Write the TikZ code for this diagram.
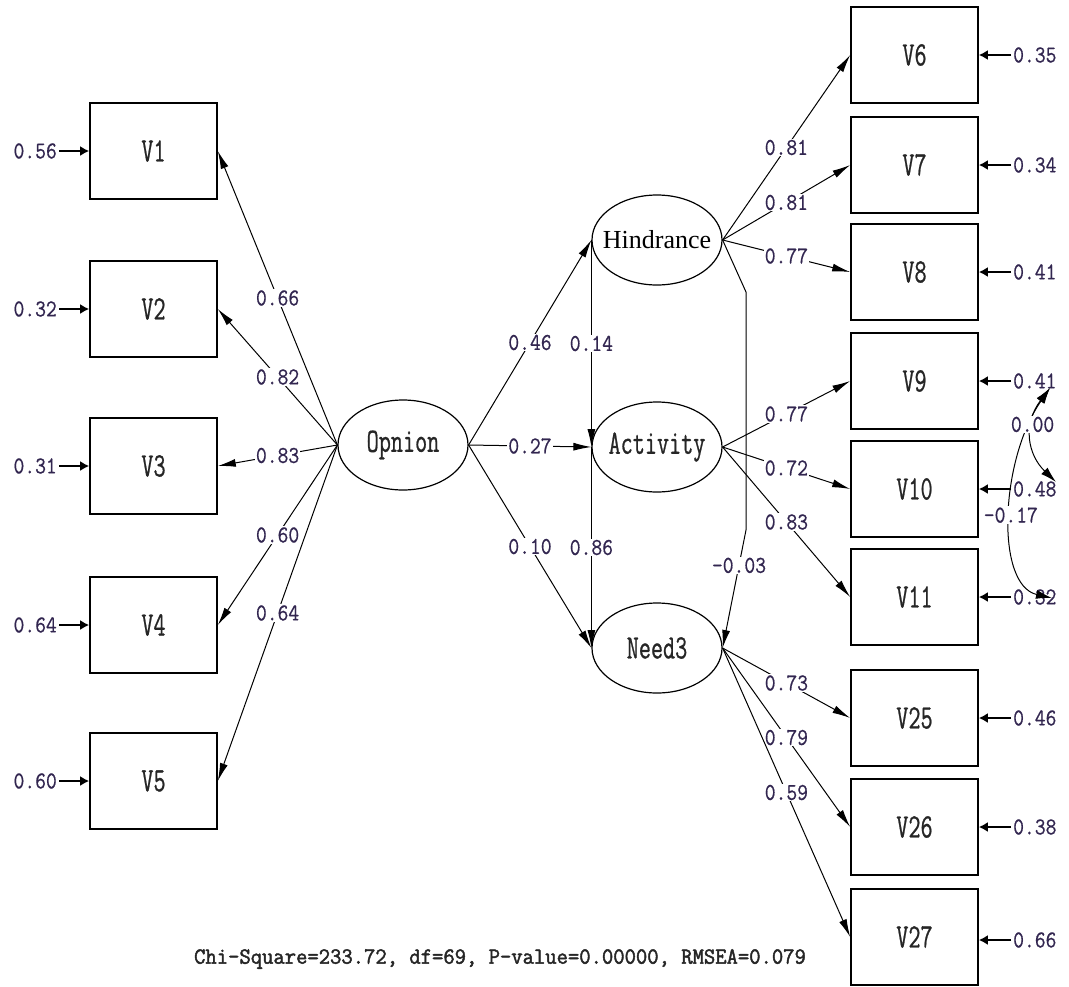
\documentclass[tikz,border=0pt]{standalone}
\usepackage{fontspec}
\usepackage{graphicx}
\setmainfont{Liberation Serif}
\newfontfamily\numf{Latin Modern Mono}[FakeBold=0.7]
\newfontfamily\boxf{Latin Modern Mono}[FakeBold=0.9]
\newfontfamily\fitf{Latin Modern Mono}[FakeBold=2]
\usetikzlibrary{shapes.geometric,arrows.meta}
\definecolor{numcol}{RGB}{50,38,80}
\newcommand\tl[2][1.15]{\scalebox{1}[#1]{#2}}
\begin{document}
\begin{tikzpicture}[x=1pt,y=-1pt,
 box/.style={draw, line width=1.6pt, minimum width=127pt, minimum height=96pt, inner sep=0pt, font=\boxf\fontsize{23.5}{23.5}\selectfont, text=black!85},
 lat/.style={draw, ellipse, line width=1.2pt, minimum width=130pt, minimum height=90pt, inner sep=0pt},
 lattext/.style={font=\boxf\fontsize{23.5}{23.5}\selectfont, text=black!85},
 num/.style={font=\numf\fontsize{21}{21}\selectfont, text=numcol, fill=white, inner sep=1pt},
 elab/.style={font=\numf\fontsize{21}{21}\selectfont, text=numcol, inner sep=0pt},
 pth/.style={line width=1pt, -{Latex[length=18pt,width=8pt]}},
 earr/.style={line width=2.6pt, -{Latex[length=9pt,width=10pt]}},
 cov/.style={line width=1pt, {Latex[length=16pt,width=9pt]}-{Latex[length=16pt,width=9pt]}},
]
\useasboundingbox (0,0) rectangle (1069,986);

% left observed
\node[box] (V1) at (153.5,151) {\tl[1.45]{V1}};
\node[box] (V2) at (153.5,309) {\tl[1.45]{V2}};
\node[box] (V3) at (153.5,466) {\tl[1.45]{V3}};
\node[box] (V4) at (153.5,625) {\tl[1.45]{V4}};
\node[box] (V5) at (153.5,781) {\tl[1.45]{V5}};

% right observed
\node[box] (V6)  at (914.5,55)  {\tl[1.45]{V6}};
\node[box] (V7)  at (914.5,165) {\tl[1.45]{V7}};
\node[box] (V8)  at (914.5,272) {\tl[1.45]{V8}};
\node[box] (V9)  at (914.5,381) {\tl[1.45]{V9}};
\node[box] (V10) at (914.5,489) {\tl[1.45]{V10}};
\node[box] (V11) at (914.5,597) {\tl[1.45]{V11}};
\node[box] (V25) at (914.5,718) {\tl[1.45]{V25}};
\node[box] (V26) at (914.5,827) {\tl[1.45]{V26}};
\node[box] (V27) at (914.5,937) {\tl[1.45]{V27}};

% latent
\node[lat, label={[lattext]center:\tl[1.45]{Opnion}}] (Op) at (403,445) {};
\node[lat, label={[font=\fontsize{26}{26}\selectfont, text=black]center:Hindrance}] (Hi) at (657,240) {};
\node[lat, label={[lattext]center:\tl[1.45]{Activity}}] (Ac) at (657,447) {};
\node[lat, label={[lattext]center:\tl[1.45]{Need3}}] (Ne) at (657,648) {};

% left errors
\node[elab, anchor=east] (e1) at (57,151) {\tl{0.56}};
\node[elab, anchor=east] (e2) at (57,309) {\tl{0.32}};
\node[elab, anchor=east] (e3) at (57,466) {\tl{0.31}};
\node[elab, anchor=east] (e4) at (57,625) {\tl{0.64}};
\node[elab, anchor=east] (e5) at (57,781) {\tl{0.60}};
\foreach \i in {1,...,5} \draw[earr] ([xshift=2pt]e\i.east) -- (V\i.west);

% right errors
\node[elab, anchor=west] (e6)  at (1013,55)  {\tl{0.35}};
\node[elab, anchor=west] (e7)  at (1013,165) {\tl{0.34}};
\node[elab, anchor=west] (e8)  at (1013,272) {\tl{0.41}};
\node[elab, anchor=west] (e9)  at (1013,381) {\tl{0.41}};
\node[elab, anchor=west] (e10) at (1013,489) {\tl{0.48}};
\node[elab, anchor=west] (e11) at (1013,597) {\tl{0.32}};
\node[elab, anchor=west] (e25) at (1013,718) {\tl{0.46}};
\node[elab, anchor=west] (e26) at (1013,827) {\tl{0.38}};
\node[elab, anchor=west] (e27) at (1013,940) {\tl{0.66}};
\foreach \i in {6,7,8,9,10,11,25,26} \draw[earr] ([xshift=-2pt]e\i.west) -- (V\i.east);
\draw[earr] ([xshift=-2pt]e27.west) -- (e27.west -| V27.east);

% Opnion loadings
\draw[pth] (Op.west) -- node[num]{\tl{0.66}} (V1.east);
\draw[pth] (Op.west) -- node[num]{\tl{0.82}} (V2.east);
\draw[pth] (Op.west) -- node[num]{\tl{0.83}} (V3.east);
\draw[pth] (Op.west) -- node[num]{\tl{0.60}} (V4.east);
\draw[pth] (Op.west) -- node[num]{\tl{0.64}} (V5.east);

% structural paths
\draw[pth] (Op.east) -- node[num]{\tl{0.46}} (Hi.west);
\draw[pth] (Op.east) -- node[num]{\tl{0.27}} (Ac.west);
\draw[pth] (Op.east) -- node[num]{\tl{0.10}} (Ne.west);
\draw[pth] (Hi.west) -- node[num]{\tl{0.14}} (Ac.west);
\draw[pth] (Ac.west) -- node[num]{\tl{0.86}} (Ne.west);
\coordinate (h1) at (746,292);
\coordinate (h2) at (746,530);
\draw[pth] (Hi.east) -- (h1) -- (h2) -- node[num, pos=0.3]{\tl{-0.03}} (Ne.east);

% Hindrance loadings
\draw[pth] (Hi.east) -- node[num]{\tl{0.81}} (V6.west);
\draw[pth] (Hi.east) -- node[num]{\tl{0.81}} (V7.west);
\draw[pth] (Hi.east) -- node[num]{\tl{0.77}} (V8.west);
% Activity loadings
\draw[pth] (Ac.east) -- node[num]{\tl{0.77}} (V9.west);
\draw[pth] (Ac.east) -- node[num]{\tl{0.72}} (V10.west);
\draw[pth] (Ac.east) -- node[num]{\tl{0.83}} (V11.west);
% Need3 loadings
\draw[pth] (Ne.east) -- node[num]{\tl{0.73}} (V25.west);
\draw[pth] (Ne.east) -- node[num]{\tl{0.79}} (V26.west);
\draw[pth] (Ne.east) -- node[num]{\tl{0.59}} (V27.west);

% error covariances
\coordinate (c9) at (1050,388);
\coordinate (c10) at (1056,482);
\coordinate (c11) at (1052,598);
\draw[cov] (c9) .. controls (1000,460) and (995,585) .. node[num, pos=0.5]{\tl{-0.17}} (c11);
\draw[cov] (c9) .. controls (1022,425) and (1028,455) .. node[num, pos=0.35]{\tl{0.00}} (c10);

\node[font=\fitf\fontsize{22}{22}\selectfont, text=black!85] (fit) at (500,959) {\tl[1.05]{Chi-Square=233.72, df=69, P-value=0.00000, RMSEA=0.079}};
\end{tikzpicture}
\end{document}
